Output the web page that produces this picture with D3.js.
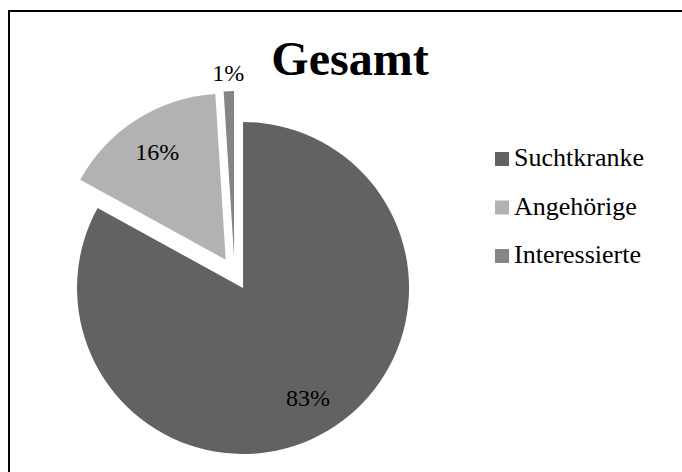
<!DOCTYPE html>
<html>
<head>
<meta charset="utf-8">
<script src="https://cdn.jsdelivr.net/npm/d3@7"></script>
<style>
  body { margin: 0; background: #fff; overflow: hidden; }
</style>
</head>
<body>
<svg width="682" height="472" font-family="Liberation Serif"></svg>
<script>
// chart data
var categories = ["Suchtkranke", "Angehörige", "Interessierte"];
var values = [83, 16, 1];
var labels = ["83%", "16%", "1%"];
var colors = ["#626262", "#b2b2b2", "#858585"];

var svg = d3.select("svg"),
    width = +svg.attr("width"),
    height = +svg.attr("height");

// frame (right and bottom edges fall outside the picture)
svg.append("rect")
  .attr("x", 9).attr("y", 11)
  .attr("width", 720).attr("height", 520)
  .attr("fill", "none")
  .attr("stroke", "#000")
  .attr("stroke-width", 2);

// title
svg.append("text")
  .attr("x", 350).attr("y", 75)
  .attr("text-anchor", "middle")
  .attr("font-size", 48)
  .attr("font-weight", "bold")
  .text("Gesamt");

// pie
var cx = 234.6, cy = 273.7, radius = 166, explode = 16.6;
var pie = d3.pie().sort(null).value(function(d) { return d; });
var arcs = pie(values);
var arc = d3.arc().innerRadius(0).outerRadius(radius);

var g = svg.append("g").attr("transform", "translate(" + cx + "," + cy + ")");

// every slice is pulled out along its bisector
function offset(d) {
  var a = (d.startAngle + d.endAngle) / 2;
  return [explode * Math.sin(a), -explode * Math.cos(a)];
}

var slices = g.selectAll("g.slice")
    .data(arcs)
  .enter().append("g")
    .attr("class", "slice")
    .attr("transform", function(d) {
      var o = offset(d);
      return "translate(" + o[0] + "," + o[1] + ")";
    });

slices.append("path")
  .attr("d", arc)
  .attr("fill", function(d, i) { return colors[i]; });

// data labels: inside for the big slices, outside for the tiny one
slices.append("text")
  .attr("transform", function(d) {
    var r = (d.endAngle - d.startAngle) < 0.2 ? radius * 1.11 : radius * 0.77;
    var c = d3.arc().innerRadius(r).outerRadius(r).centroid(d);
    return "translate(" + c[0] + "," + c[1] + ")";
  })
  .attr("dy", "0.35em")
  .attr("text-anchor", "middle")
  .attr("font-size", 24)
  .text(function(d, i) { return labels[i]; });

// legend
var legend = svg.append("g").attr("class", "legend");
categories.forEach(function(name, i) {
  var y = 166 + i * 48.5;
  legend.append("rect")
    .attr("x", 495).attr("y", y - 14)
    .attr("width", 14).attr("height", 14)
    .attr("fill", colors[i]);
  legend.append("text")
    .attr("x", 514).attr("y", y)
    .attr("font-size", 26)
    .text(name);
});
</script>
</body>
</html>
